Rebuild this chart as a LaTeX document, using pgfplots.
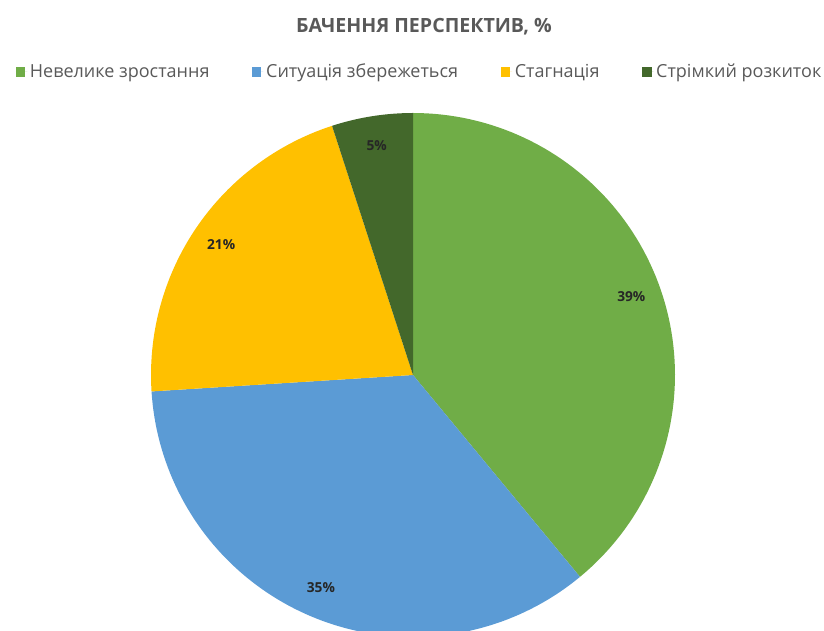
\documentclass[border=0pt]{standalone}
\usepackage{pgfplots}
\pgfplotsset{compat=1.18}
\usepackage{fontspec}
\setmainfont{Open Sans}

\definecolor{pie_green}{HTML}{70AD47}
\definecolor{pie_blue}{HTML}{5B9BD5}
\definecolor{pie_yellow}{HTML}{FFC000}
\definecolor{pie_dark}{HTML}{43682B}
\definecolor{txt_gray}{HTML}{595959}

% shares, %
\def\vA{39} % Невелике зростання
\def\vB{35} % Ситуація збережеться
\def\vC{21} % Стагнація
\def\vD{5}  % Стрімкий розкиток

% pie centre and radius (picture units, 1 unit = 1 px)
\def\cx{413}
\def\cy{256}
\def\R{262}
\def\rl{232}

% slice boundaries, clockwise from 12 o'clock
\pgfmathsetmacro\aA{90}
\pgfmathsetmacro\aB{\aA-3.6*\vA}
\pgfmathsetmacro\aC{\aB-3.6*\vB}
\pgfmathsetmacro\aD{\aC-3.6*\vC}
\pgfmathsetmacro\aE{\aD-3.6*\vD}

\begin{document}
\begin{tikzpicture}
    \begin{axis}[
            scale only axis,
            width=618pt,
            height=473.25pt,
            xmin=0, xmax=824,
            ymin=0, ymax=631,
            hide axis,
            clip=true,
            legend columns=4,
            legend style={
                    at={(axis cs:420,559)},
                    anchor=center,
                    draw=none,
                    fill=none,
                    font=\fontsize{13.5pt}{16pt}\selectfont\color{txt_gray},
                    /tikz/every even column/.append style={column sep=30pt},
                    legend cell align=left
                },
            legend image code/.code={
                    \fill[#1] (0pt,-3.5pt) rectangle (7pt,3.5pt);
                    \path (0pt,0pt) -- (8.5pt,0pt);
                }
        ]

        \addplot[fill=pie_green, draw=none, domain=\aB:\aA, samples=90]
        ({\cx+\R*cos(x)}, {\cy+\R*sin(x)}) -- (axis cs:\cx,\cy) -- cycle;
        \addlegendentry{Невелике зростання}

        \addplot[fill=pie_blue, draw=none, domain=\aC:\aB, samples=90]
        ({\cx+\R*cos(x)}, {\cy+\R*sin(x)}) -- (axis cs:\cx,\cy) -- cycle;
        \addlegendentry{Ситуація збережеться}

        \addplot[fill=pie_yellow, draw=none, domain=\aD:\aC, samples=60]
        ({\cx+\R*cos(x)}, {\cy+\R*sin(x)}) -- (axis cs:\cx,\cy) -- cycle;
        \addlegendentry{Стагнація}

        \addplot[fill=pie_dark, draw=none, domain=\aE:\aD, samples=20]
        ({\cx+\R*cos(x)}, {\cy+\R*sin(x)}) -- (axis cs:\cx,\cy) -- cycle;
        \addlegendentry{Стрімкий розкиток}

        % data labels at the middle of each slice
        \pgfmathsetmacro\mA{(\aA+\aB)/2}
        \pgfmathsetmacro\mB{(\aB+\aC)/2}
        \pgfmathsetmacro\mC{(\aC+\aD)/2}
        \pgfmathsetmacro\mD{(\aD+\aE)/2}
        \tikzset{lbl/.style={font=\bfseries\fontsize{10.3pt}{12pt}\selectfont, text=black!85}}
        \node[lbl] at (axis cs:{\cx+\rl*cos(\mA)},{\cy+\rl*sin(\mA)}) {\vA\%};
        \node[lbl] at (axis cs:{\cx+\rl*cos(\mB)},{\cy+\rl*sin(\mB)}) {\vB\%};
        \node[lbl] at (axis cs:{\cx+\rl*cos(\mC)},{\cy+\rl*sin(\mC)}) {\vC\%};
        \node[lbl] at (axis cs:{\cx+\rl*cos(\mD)},{\cy+\rl*sin(\mD)}) {\vD\%};

        \node[font=\bfseries\fontsize{14.7pt}{17pt}\selectfont, text=txt_gray]
        at (axis cs:424,604) {БАЧЕННЯ ПЕРСПЕКТИВ, \%};

        \coordinate (bl) at (axis cs:0,0);
        \coordinate (tr) at (axis cs:824,631);
    \end{axis}
    \pgfresetboundingbox
    \clip (bl) rectangle (tr);
    \useasboundingbox (bl) rectangle (tr);
\end{tikzpicture}
\end{document}
